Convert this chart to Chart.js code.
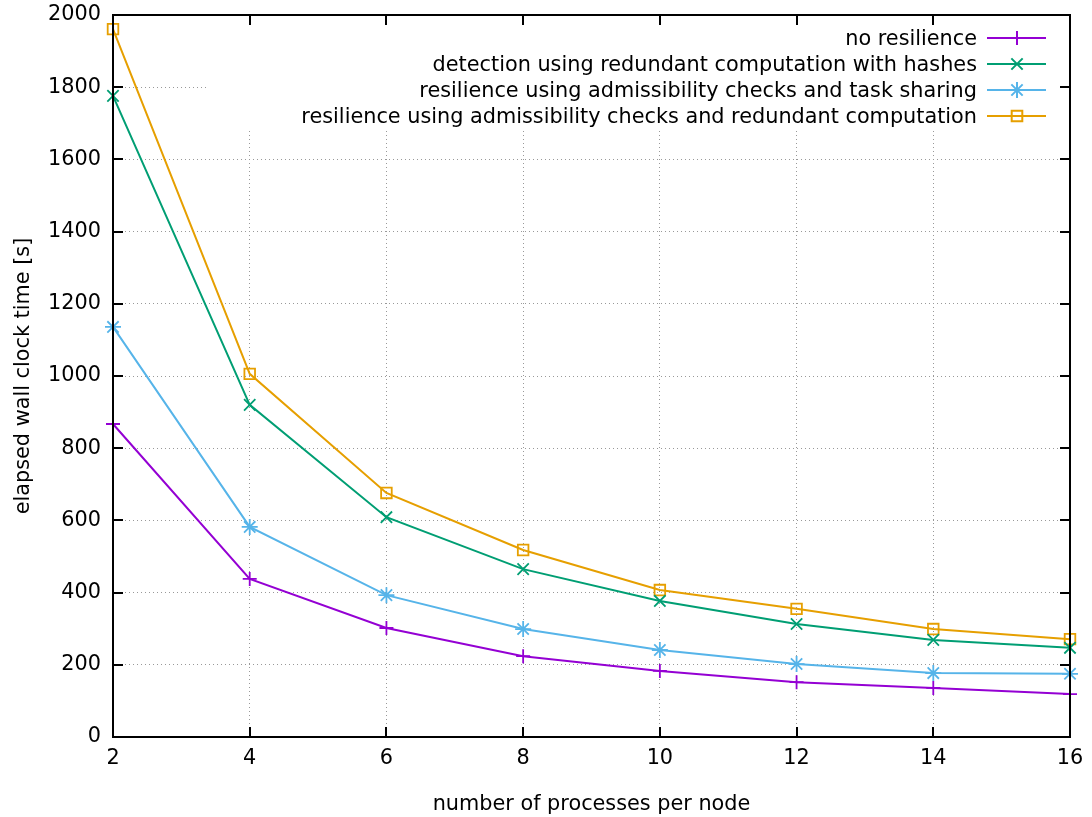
<!DOCTYPE html>
<html>
<head>
<meta charset="utf-8">
<script src="https://cdn.jsdelivr.net/npm/chart.js@4"></script>
<style>
  body { margin: 0; background: #fff; }
  canvas { display: block; }
</style>
</head>
<body>
<canvas id="myChart" width="1092" height="817"></canvas>
<script>
// data
const processes = [2, 4, 6, 8, 10, 12, 14, 16];
const noResilience = [867, 438, 302, 224, 183, 152, 136, 119];
const detectionHashes = [1776, 920, 609, 465, 377, 313, 269, 247];
const taskSharing = [1136, 582, 393, 299, 241, 202, 177, 175];
const redundantComp = [1961, 1006, 676, 518, 407, 355, 299, 271];
const seriesNames = [
  "no resilience",
  "detection using redundant computation with hashes",
  "resilience using admissibility checks and task sharing",
  "resilience using admissibility checks and redundant computation",
];
const xTicks = [2, 4, 6, 8, 10, 12, 14, 16];
const yTicks = [0, 200, 400, 600, 800, 1000, 1200, 1400, 1600, 1800, 2000];

const FONT = "DejaVu Sans";
const FSIZE = 20.8;
const colors = ["#9400d3", "#009e73", "#56b4e9", "#e69f00"];
const markers = ["cross", "crossRot", "star", "rect"];
const markerSize = [7, 8, 8, 7.5];
const allSeries = [noResilience, detectionHashes, taskSharing, redundantComp];

const toPoints = (vals) => processes.map((x, i) => ({ x: x, y: vals[i] }));

// gnuplot-like frame, inward ticks and opaque key box
const gnuplotLook = {
  id: "gnuplotLook",
  beforeDatasetsDraw(chart) {
    const ctx = chart.ctx;
    ctx.save();
    ctx.fillStyle = "#fff";
    ctx.fillRect(208, 16, 860, 112);
    ctx.restore();
  },
  afterDatasetsDraw(chart) {
    const ctx = chart.ctx;
    const a = chart.chartArea;
    const xs = chart.scales.x, ys = chart.scales.y;
    const tl = 10;
    ctx.save();
    ctx.strokeStyle = "#000";
    ctx.lineWidth = 2;
    ctx.beginPath();
    yTicks.forEach((v) => {
      const py = Math.round(ys.getPixelForValue(v));
      ctx.moveTo(a.left, py); ctx.lineTo(a.left + tl, py);
      ctx.moveTo(a.right, py); ctx.lineTo(a.right - tl, py);
    });
    xTicks.forEach((v) => {
      const px = Math.round(xs.getPixelForValue(v));
      ctx.moveTo(px, a.bottom); ctx.lineTo(px, a.bottom - tl);
      ctx.moveTo(px, a.top); ctx.lineTo(px, a.top + tl);
    });
    ctx.stroke();
    ctx.strokeRect(a.left, a.top, a.right - a.left, a.bottom - a.top);

    // key
    ctx.font = FSIZE + "px '" + FONT + "'";
    ctx.textAlign = "right";
    ctx.textBaseline = "middle";
    seriesNames.forEach((name, i) => {
      const y = 38 + i * 26;
      ctx.fillStyle = "#000";
      ctx.fillText(name, 977, y + 2);
      ctx.strokeStyle = colors[i];
      ctx.lineWidth = 2;
      ctx.beginPath();
      ctx.moveTo(987, y); ctx.lineTo(1046, y);
      ctx.stroke();
      ctx.fillStyle = "rgba(0,0,0,0)";
      Chart.helpers.drawPoint(ctx, {
        pointStyle: markers[i], radius: markerSize[i], rotation: 0, borderWidth: 1.8
      }, 1017, y);
    });
    ctx.restore();
  }
};

const ctx = document.getElementById("myChart");

new Chart(ctx, {
  type: "line",
  data: {
    datasets: allSeries.map((vals, i) => ({
      label: seriesNames[i],
      data: toPoints(vals),
      borderColor: colors[i],
      backgroundColor: "rgba(0,0,0,0)",
      borderWidth: 2,
      pointStyle: markers[i],
      pointRadius: markerSize[i],
      pointBorderWidth: 1.8,
      pointBorderColor: colors[i],
      pointBackgroundColor: "rgba(0,0,0,0)",
      tension: 0,
      clip: false,
    })),
  },
  options: {
    responsive: false,
    animation: false,
    events: [],
    layout: { padding: { top: 15, right: 22, left: 0, bottom: 0 } },
    plugins: { legend: { display: false }, tooltip: { enabled: false } },
    scales: {
      x: {
        type: "linear",
        min: 2,
        max: 16,
        afterBuildTicks: (s) => { s.ticks = xTicks.map((v) => ({ value: v })); },
        afterFit: (s) => { s.height = 80; s.paddingLeft = 0; s.paddingRight = 0; },
        ticks: {
          color: "#000", font: { family: FONT, size: FSIZE }, padding: 9, maxRotation: 0,
          callback: (v) => String(v),
        },
        grid: { color: "#999", drawTicks: false },
        border: { display: false, dash: [1, 3] },
        title: {
          display: true,
          text: "number of processes per node",
          color: "#000",
          font: { family: FONT, size: FSIZE },
          padding: { top: 0, bottom: 0 },
        },
      },
      y: {
        type: "linear",
        min: 0,
        max: 2000,
        afterBuildTicks: (s) => { s.ticks = yTicks.map((v) => ({ value: v })); },
        afterFit: (s) => { s.width = 113; s.paddingTop = 0; s.paddingBottom = 0; },
        ticks: {
          color: "#000", font: { family: FONT, size: FSIZE }, padding: 12,
          callback: (v) => String(v),
        },
        grid: { color: "#999", drawTicks: false },
        border: { display: false, dash: [1, 3] },
        title: {
          display: true,
          text: "elapsed wall clock time [s]",
          color: "#000",
          font: { family: FONT, size: FSIZE },
          padding: { top: 11, bottom: 0 },
        },
      },
    },
  },
  plugins: [gnuplotLook],
});
</script>
</body>
</html>
